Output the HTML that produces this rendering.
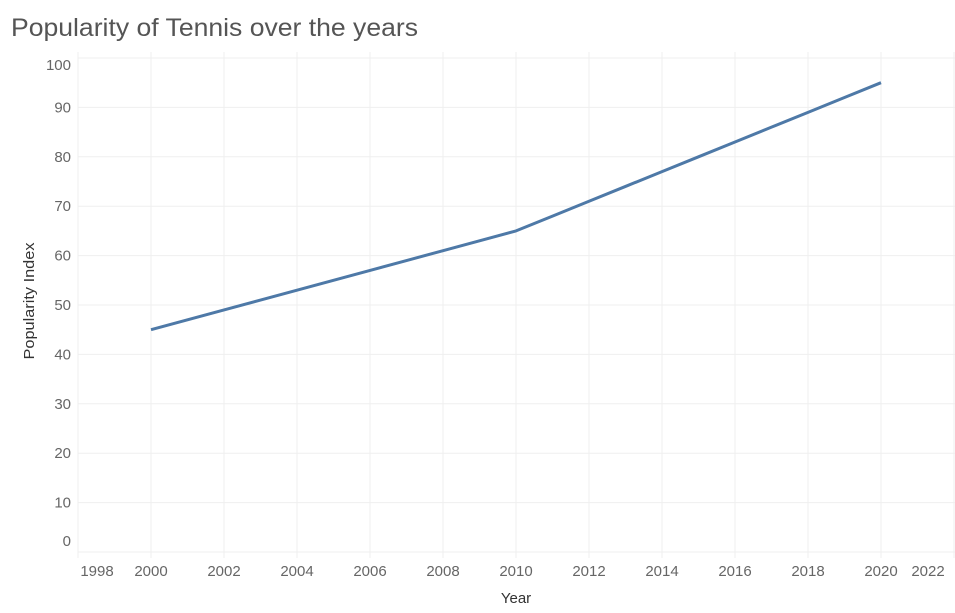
<!DOCTYPE html>
<html><head><meta charset="utf-8"><style>
body{margin:0;background:#fff;font-family:"Liberation Sans",sans-serif}
</style></head><body>
<svg width="955" height="608" xmlns="http://www.w3.org/2000/svg">
<text x="11" y="36" font-size="25" fill="#555" textLength="407" lengthAdjust="spacingAndGlyphs">Popularity of Tennis over the years</text>
<g id="grid"></g><g id="axes"></g><g id="series"></g>
<text x="516" y="603" font-size="15" fill="#333" text-anchor="middle">Year</text>
<text transform="translate(34,301) rotate(-90)" font-size="15" fill="#333" text-anchor="middle" textLength="117" lengthAdjust="spacingAndGlyphs">Popularity Index</text>
</svg>
<script>
const years=[2000,2001,2002,2003,2004,2005,2006,2007,2008,2009,2010,2011,2012,2013,2014,2015,2016,2017,2018,2019,2020];
const values=[45,47,49,51,53,55,57,59,61,63,65,68,71,74,77,80,83,86,89,92,95];
const xTicks=[1998,2000,2002,2004,2006,2008,2010,2012,2014,2016,2018,2020,2022];
const yTicks=[0,10,20,30,40,50,60,70,80,90,100];
const NS="http://www.w3.org/2000/svg";
const x=v=>78+(v-1998)*36.5, y=v=>552-v*4.94;
function mk(t,a,p){const e=document.createElementNS(NS,t);for(const k in a)e.setAttribute(k,a[k]);p.appendChild(e);return e;}
const g=document.getElementById('grid'),ax=document.getElementById('axes'),s=document.getElementById('series');
yTicks.forEach(v=>{
 const l=mk('line',{x1:78,x2:955,y1:y(v),y2:y(v),stroke:'#efefef'},g);
 
 
 let ly=y(v)+5; if(v===100)ly=y(v)+12; if(v===0)ly=y(v)-6;
 const t=mk('text',{x:71,y:ly,'font-size':15,fill:'#666','text-anchor':'end'},ax);t.textContent=v;
 
 
});
xTicks.forEach(v=>{
 const l=mk('line',{x1:x(v),x2:x(v),y1:52,y2:558,stroke:'#efefef'},g);
 
 
 let lx=x(v); if(v===1998)lx=x(v)+19; if(v===2022)lx=x(v)-26;
 const t=mk('text',{x:lx,y:576,'font-size':15,fill:'#666','text-anchor':'middle'},ax);t.textContent=v;
 
 
});
const p=mk('polyline',{points:years.map((yr,i)=>x(yr)+','+y(values[i])).join(' '),fill:'none',stroke:'#4e79a7','stroke-width':3,'stroke-linejoin':'round'},s);


</script>
</body></html>
